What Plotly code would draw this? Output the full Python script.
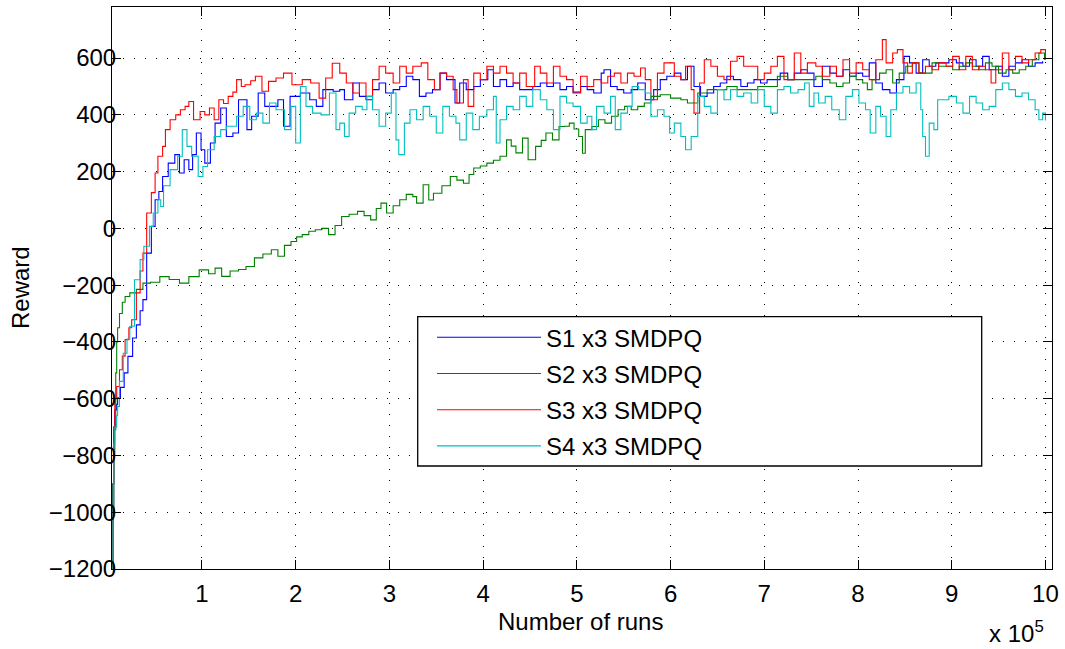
import plotly.graph_objects as go

# ---------------- data (x in units of 10^5 runs) ----------------
s1_x = [0.04, 0.05, 0.06, 0.07, 0.09, 0.10, 0.13, 0.17, 0.21, 0.26,
        0.30, 0.34, 0.37, 0.41, 0.46, 0.50, 0.54, 0.58, 0.64, 0.71,
        0.76, 0.81, 0.86, 0.90, 0.94, 0.99, 1.03, 1.09, 1.14, 1.20,
        1.26, 1.33, 1.39, 1.48, 1.53, 1.60, 1.67, 1.74, 1.81, 1.87,
        1.94, 2.05, 2.15, 2.22, 2.29, 2.40, 2.47, 2.52, 2.61, 2.68,
        2.75, 2.82, 2.89, 2.96, 3.04, 3.11, 3.18, 3.25, 3.32, 3.39,
        3.46, 3.54, 3.61, 3.70, 3.75, 3.82, 3.90, 3.97, 4.05, 4.11,
        4.18, 4.25, 4.32, 4.39, 4.46, 4.53, 4.61, 4.68, 4.75, 4.82,
        4.89, 4.96, 5.04, 5.11, 5.18, 5.26, 5.29, 5.36, 5.43, 5.50,
        5.58, 5.65, 5.73, 5.82, 5.89, 5.96, 6.04, 6.11, 6.18, 6.25,
        6.32, 6.39, 6.46, 6.53, 6.60, 6.67, 6.75, 6.82, 6.89, 6.96,
        7.03, 7.10, 7.17, 7.25, 7.32, 7.39, 7.46, 7.53, 7.62, 7.70,
        7.77, 7.84, 7.91, 7.98, 8.05, 8.12, 8.19, 8.26, 8.34, 8.41,
        8.49, 8.55, 8.62, 8.69, 8.76, 8.83, 8.90, 8.97, 9.05, 9.12,
        9.19, 9.26, 9.33, 9.40, 9.47, 9.54, 9.61, 9.68, 9.75, 9.82,
        9.89, 9.97]
s1_y = [-1200, -900, -700, -640, -620, -597, -560, -509, -451, -386,
        -340, -290, -251, -87, 7, 101, 130, 183, 230, 260,
        195, 242, 207, 260, 336, 277, 230, 301, 371, 424,
        324, 336, 453, 348, 395, 477, 430, 430, 453, 360,
        465, 477, 453, 430, 489, 483, 489, 453, 512, 465,
        453, 489, 512, 477, 489, 500, 536, 524, 465, 477,
        489, 547, 524, 442, 512, 489, 500, 524, 559, 500,
        524, 500, 512, 489, 489, 500, 512, 500, 512, 489,
        500, 480, 500, 489, 477, 547, 559, 500, 489, 477,
        489, 512, 453, 489, 524, 536, 547, 524, 571, 500,
        465, 477, 500, 512, 536, 524, 500, 512, 524, 512,
        524, 524, 547, 524, 547, 559, 547, 500, 571, 547,
        536, 559, 536, 547, 536, 583, 512, 489, 477, 524,
        606, 583, 547, 594, 571, 583, 583, 594, 583, 571,
        594, 571, 606, 559, 571, 536, 571, 583, 594, 571,
        583, 589]

s2_x = [0.04, 0.05, 0.06, 0.07, 0.08, 0.09, 0.10, 0.12, 0.15, 0.18,
        0.23, 0.30, 0.37, 0.45, 0.55, 0.65, 0.76, 0.86, 0.97, 1.07,
        1.14, 1.21, 1.30, 1.39, 1.47, 1.56, 1.65, 1.74, 1.81, 1.88,
        1.95, 2.01, 2.07, 2.14, 2.21, 2.28, 2.35, 2.42, 2.49, 2.57,
        2.66, 2.73, 2.80, 2.86, 2.91, 2.97, 3.04, 3.11, 3.18, 3.25,
        3.29, 3.36, 3.42, 3.47, 3.56, 3.65, 3.72, 3.79, 3.85, 3.90,
        3.97, 4.04, 4.11, 4.18, 4.25, 4.30, 4.35, 4.42, 4.48, 4.56,
        4.62, 4.67, 4.74, 4.81, 4.87, 4.92, 4.97, 5.02, 5.06, 5.09,
        5.16, 5.23, 5.30, 5.37, 5.44, 5.51, 5.58, 5.65, 5.72, 5.79,
        5.89, 6.00, 6.11, 6.18, 6.29, 6.39, 6.50, 6.60, 6.71, 6.82,
        6.93, 7.03, 7.14, 7.25, 7.36, 7.46, 7.55, 7.62, 7.70, 7.77,
        7.84, 7.91, 7.98, 8.05, 8.10, 8.15, 8.23, 8.30, 8.37, 8.44,
        8.51, 8.58, 8.65, 8.72, 8.79, 8.86, 8.94, 9.01, 9.08, 9.15,
        9.22, 9.29, 9.36, 9.43, 9.50, 9.58, 9.65, 9.72, 9.79, 9.86,
        9.93, 9.99]
s2_y = [-1200, -900, -790, -709, -509, -400, -350, -300, -260, -240,
        -227, -215, -193, -190, -170, -180, -193, -170, -146, -160,
        -140, -169, -150, -145, -134, -104, -90, -75, -98, -60,
        -46, -30, -22, -10, -5, 0, -22, 10, 42, 50,
        60, 45, 30, 70, 89, 54, 80, 101, 120, 112,
        89, 154, 100, 124, 150, 183, 170, 159, 190, 213,
        220, 230, 240, 254, 312, 290, 266, 318, 242, 289,
        310, 336, 312, 359, 360, 371, 350, 324, 265, 348,
        359, 383, 371, 395, 418, 430, 418, 430, 442, 465,
        471, 459, 453, 442, 477, 489, 489, 500, 489, 489,
        500, 500, 536, 524, 524, 524, 536, 524, 512, 500,
        512, 536, 524, 512, 489, 524, 547, 559, 512, 547,
        571, 583, 547, 547, 583, 571, 571, 559, 571, 583,
        571, 559, 583, 571, 547, 559, 547, 559, 571, 594,
        618, 594]

s3_x = [0.04, 0.05, 0.06, 0.07, 0.09, 0.12, 0.15, 0.18, 0.22, 0.25,
        0.30, 0.34, 0.37, 0.41, 0.46, 0.50, 0.53, 0.58, 0.61, 0.66,
        0.72, 0.77, 0.82, 0.86, 0.91, 0.98, 1.03, 1.08, 1.13, 1.18,
        1.23, 1.28, 1.33, 1.37, 1.42, 1.46, 1.52, 1.57, 1.64, 1.71,
        1.79, 1.87, 1.96, 2.07, 2.16, 2.25, 2.32, 2.39, 2.47, 2.54,
        2.61, 2.68, 2.75, 2.82, 2.89, 2.96, 3.04, 3.11, 3.18, 3.25,
        3.34, 3.41, 3.48, 3.54, 3.61, 3.68, 3.72, 3.79, 3.84, 3.90,
        3.97, 4.04, 4.11, 4.18, 4.25, 4.32, 4.39, 4.46, 4.55, 4.61,
        4.68, 4.75, 4.82, 4.89, 4.96, 5.04, 5.11, 5.18, 5.26, 5.33,
        5.40, 5.47, 5.54, 5.61, 5.68, 5.73, 5.79, 5.86, 5.93, 5.99,
        6.04, 6.11, 6.16, 6.22, 6.25, 6.31, 6.36, 6.43, 6.50, 6.57,
        6.64, 6.71, 6.78, 6.86, 6.93, 7.00, 7.07, 7.14, 7.21, 7.32,
        7.39, 7.46, 7.55, 7.62, 7.70, 7.77, 7.84, 7.91, 7.98, 8.05,
        8.12, 8.19, 8.26, 8.30, 8.37, 8.42, 8.48, 8.53, 8.58, 8.65,
        8.72, 8.79, 8.86, 8.94, 9.01, 9.08, 9.15, 9.22, 9.29, 9.36,
        9.42, 9.47, 9.54, 9.61, 9.68, 9.75, 9.82, 9.89, 9.95, 10.0]
s3_y = [-1200, -1000, -700, -600, -557, -498, -450, -392, -350, -322,
        -227, -150, -87, 54, 126, 195, 254, 289, 348, 383,
        400, 418, 430, 447, 383, 412, 400, 424, 383, 453,
        440, 465, 480, 524, 500, 506, 520, 536, 483, 518,
        530, 547, 506, 524, 512, 459, 530, 582, 547, 512,
        477, 512, 465, 524, 571, 547, 512, 571, 547, 571,
        583, 524, 489, 547, 536, 489, 442, 524, 430, 547,
        524, 571, 547, 571, 547, 512, 547, 500, 571, 547,
        512, 571, 536, 524, 477, 536, 500, 524, 512, 536,
        547, 512, 547, 536, 565, 524, 453, 547, 583, 583,
        536, 524, 571, 489, 406, 512, 594, 571, 536, 524,
        589, 606, 571, 571, 524, 547, 571, 606, 524, 618,
        547, 583, 571, 536, 571, 536, 594, 547, 583, 559,
        524, 594, 665, 583, 618, 630, 583, 547, 583, 547,
        571, 559, 583, 571, 606, 559, 606, 559, 571, 559,
        512, 559, 618, 559, 606, 583, 594, 618, 630, 594]

s4_x = [0.04, 0.05, 0.06, 0.07, 0.09, 0.10, 0.12, 0.16, 0.20, 0.23,
        0.28, 0.34, 0.38, 0.44, 0.48, 0.53, 0.56, 0.59, 0.66, 0.74,
        0.79, 0.84, 0.89, 0.96, 1.01, 1.06, 1.13, 1.20, 1.26, 1.37,
        1.44, 1.51, 1.58, 1.65, 1.72, 1.79, 1.88, 1.95, 2.00, 2.05,
        2.11, 2.18, 2.27, 2.36, 2.43, 2.47, 2.52, 2.57, 2.64, 2.71,
        2.76, 2.82, 2.89, 2.96, 3.02, 3.07, 3.10, 3.16, 3.22, 3.29,
        3.36, 3.43, 3.50, 3.57, 3.64, 3.71, 3.75, 3.82, 3.89, 3.96,
        4.04, 4.11, 4.14, 4.18, 4.25, 4.32, 4.39, 4.46, 4.53, 4.61,
        4.68, 4.75, 4.82, 4.89, 4.96, 5.04, 5.11, 5.16, 5.21, 5.29,
        5.36, 5.41, 5.47, 5.54, 5.59, 5.66, 5.73, 5.79, 5.86, 5.93,
        5.99, 6.04, 6.11, 6.16, 6.22, 6.29, 6.36, 6.43, 6.50, 6.57,
        6.64, 6.71, 6.78, 6.86, 6.93, 7.00, 7.07, 7.14, 7.21, 7.28,
        7.36, 7.43, 7.48, 7.53, 7.58, 7.65, 7.72, 7.80, 7.87, 7.94,
        8.01, 8.08, 8.13, 8.19, 8.24, 8.30, 8.35, 8.41, 8.48, 8.55,
        8.62, 8.67, 8.69, 8.72, 8.76, 8.81, 8.85, 8.90, 8.97, 9.05,
        9.12, 9.19, 9.26, 9.33, 9.40, 9.47, 9.54, 9.61, 9.68, 9.75,
        9.82, 9.89, 9.93, 9.97, 10.0]
s4_y = [-1200, -1000, -760, -700, -660, -627, -539, -440, -390, -345,
        -181, -110, -63, 7, 54, 101, 77, 150, 207, 254,
        348, 289, 254, 183, 218, 277, 324, 348, 360, 395,
        430, 383, 406, 371, 442, 418, 348, 430, 301, 500,
        430, 406, 400, 477, 348, 371, 324, 406, 430, 418,
        465, 418, 360, 406, 477, 312, 260, 371, 418, 383,
        430, 395, 336, 430, 395, 371, 312, 406, 348, 395,
        418, 465, 301, 383, 430, 418, 465, 430, 489, 453,
        418, 348, 465, 442, 430, 371, 395, 348, 430, 406,
        465, 348, 406, 430, 500, 489, 477, 395, 418, 395,
        336, 371, 324, 277, 324, 465, 430, 406, 489, 453,
        489, 465, 477, 442, 489, 430, 406, 489, 500, 477,
        489, 512, 430, 477, 442, 465, 418, 383, 465, 489,
        442, 418, 336, 430, 395, 324, 418, 477, 500, 477,
        512, 418, 324, 254, 371, 348, 453, 453, 465, 442,
        406, 465, 442, 418, 430, 489, 512, 489, 465, 477,
        453, 418, 383, 406, 380]

series_names = ["S1 x3 SMDPQ", "S2 x3 SMDPQ", "S3 x3 SMDPQ", "S4 x3 SMDPQ"]
x_tick_values = [1, 2, 3, 4, 5, 6, 7, 8, 9, 10]
y_tick_values = [-1200, -1000, -800, -600, -400, -200, 0, 200, 400, 600]

# ---------------- styling ----------------
colors = ["#0000FF", "#008000", "#FF0000", "#00BFBF"]
FONT = "Liberation Sans, Arial, Helvetica, sans-serif"
FS = 24

fig = go.Figure()
for name, xs, ys, c in zip(series_names, [s1_x, s2_x, s3_x, s4_x],
                           [s1_y, s2_y, s3_y, s4_y], colors):
    fig.add_trace(go.Scatter(x=xs, y=ys, mode="lines", name=name,
                             legendgroup=name,
                             line=dict(color=c, width=1.1, shape="hv")))

L, R, T, B = 112, 13, 7, 80
PW = 1065 - L - R
PH = 649 - T - B


def px_x(p):
    return (p - L) / PW


def px_y(p):
    return (649 - B - p) / PH


axis_common = dict(showline=True, linecolor="black", linewidth=1,
                   mirror="ticks", ticks="inside", ticklen=9,
                   tickcolor="black", tickwidth=1,
                   showgrid=True, gridcolor="black", gridwidth=1,
                   griddash="1px,10px", zeroline=False,
                   tickfont=dict(family=FONT, size=FS, color="black"))

fig.update_layout(
    width=1065, height=649,
    margin=dict(l=L, r=R, t=T, b=B),
    paper_bgcolor="white", plot_bgcolor="white",
    font=dict(family=FONT, size=FS, color="black"),
    xaxis=dict(range=[0.04, 10.07], tickvals=x_tick_values,
               ticklabelstandoff=3, **axis_common),
    yaxis=dict(range=[-1200, 780], tickvals=y_tick_values,
               ticklabelstandoff=-10, **axis_common),
    legend=dict(x=px_x(432), y=px_y(315.2), xanchor="left", yanchor="top",
                bgcolor="rgba(0,0,0,0)", borderwidth=0,
                itemwidth=104, tracegroupgap=2,
                font=dict(family=FONT, size=FS, color="black")),
    showlegend=True,
    shapes=[dict(type="rect", xref="paper", yref="paper",
                 x0=px_x(417.7), x1=px_x(981.7),
                 y0=px_y(466), y1=px_y(316.7),
                 line=dict(color="black", width=1.3),
                 fillcolor="white", layer="above")],
    annotations=[
        dict(text="Reward", xref="paper", yref="paper", x=px_x(20), y=0.5,
             xanchor="center", yanchor="middle", textangle=-90,
             showarrow=False, font=dict(family=FONT, size=FS)),
        dict(text="Number of runs", xref="paper", yref="paper",
             x=px_x(580), y=px_y(621), xanchor="center", yanchor="middle",
             showarrow=False, font=dict(family=FONT, size=FS)),
        dict(text="x 10<sup>5</sup>", xref="paper", yref="paper",
             x=px_x(1046), y=px_y(649), xanchor="right", yanchor="bottom",
             showarrow=False, font=dict(family=FONT, size=FS)),
    ],
)

fig.write_html("out.html")
